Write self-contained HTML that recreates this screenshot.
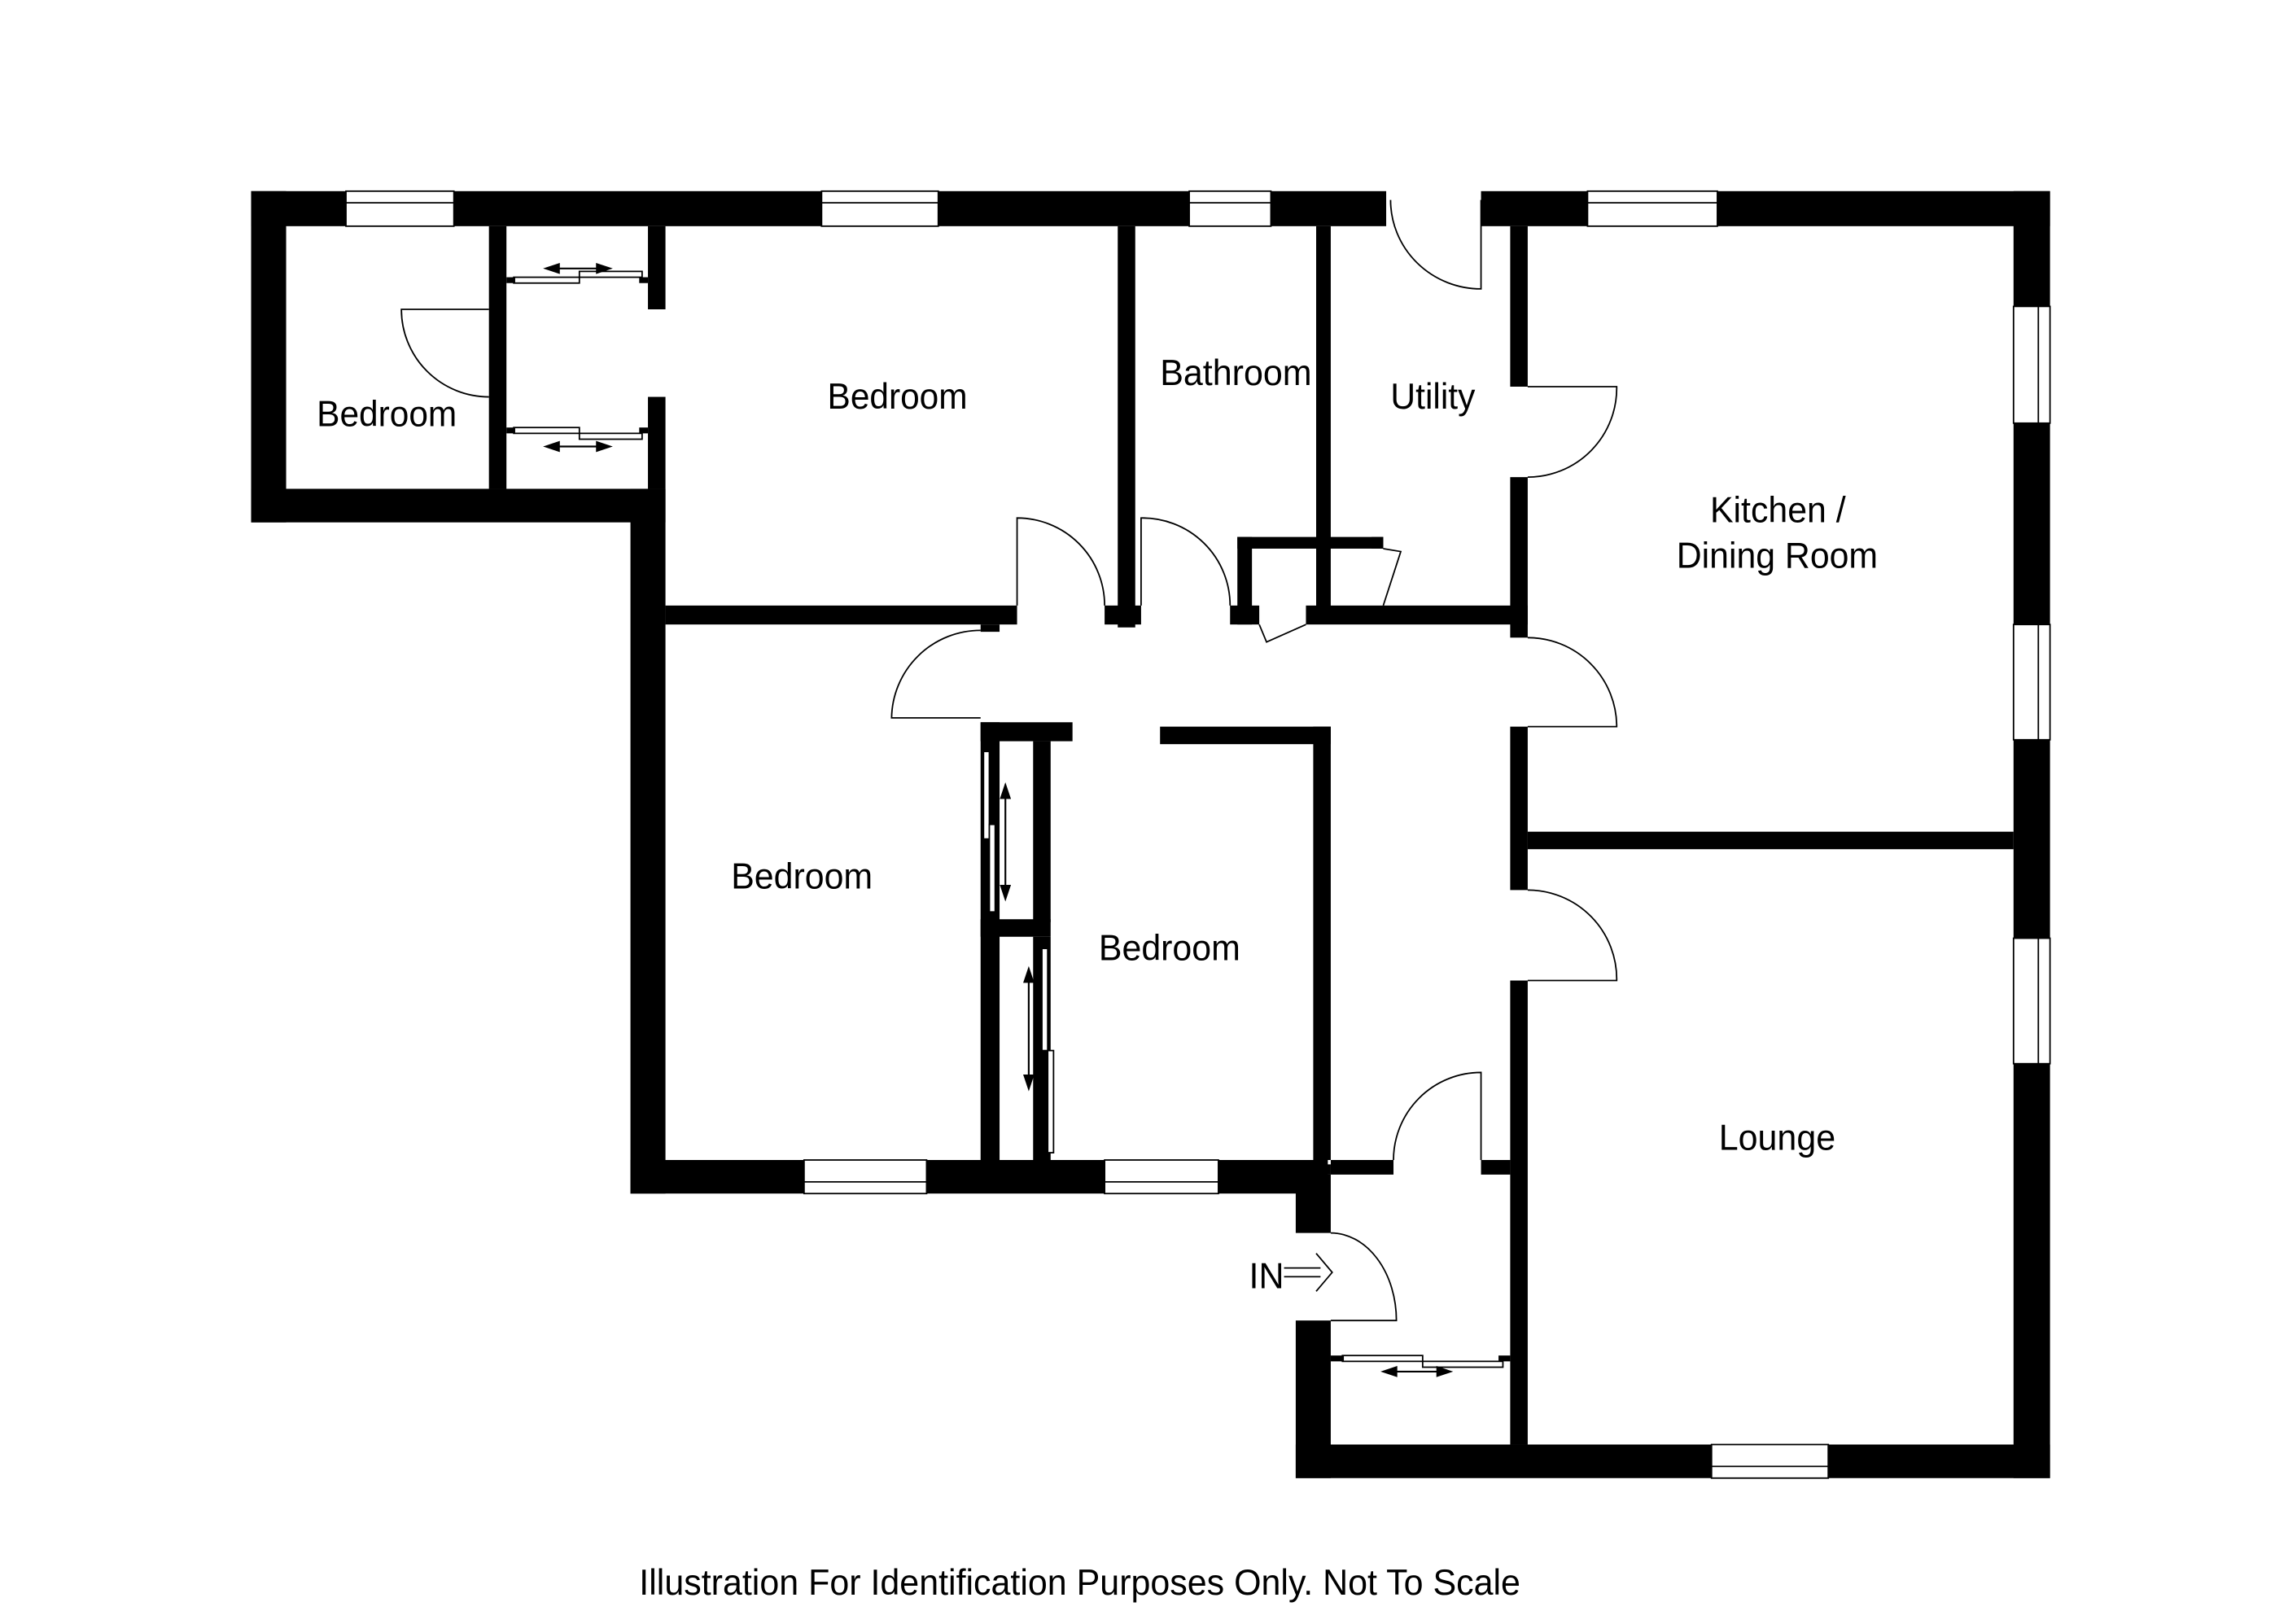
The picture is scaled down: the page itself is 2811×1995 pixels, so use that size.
<!DOCTYPE html>
<html><head><style>
html,body{margin:0;padding:0;background:#fff;}
svg{display:block;}
text{font-family:"Liberation Sans Narrow","Liberation Sans",sans-serif;fill:#000;}
</style></head><body>
<svg width="2811" height="1995" viewBox="0 0 1568 1113" xmlns="http://www.w3.org/2000/svg">
<rect width="1568" height="1113" fill="#fff"/>
<g fill="#000">
<rect x="172" y="131" width="778" height="24"/>
<rect x="1015" y="131" width="390" height="24"/>
<rect x="172" y="131" width="24" height="227"/>
<rect x="172" y="335" width="284" height="23"/>
<rect x="432" y="335" width="24" height="483"/>
<rect x="432" y="795" width="478" height="23"/>
<rect x="1380" y="131" width="25" height="882"/>
<rect x="888" y="990" width="517" height="23"/>
<rect x="888" y="805" width="24" height="40"/>
<rect x="888" y="905" width="24" height="108"/>
<rect x="335" y="155" width="12" height="180"/>
<rect x="444" y="155" width="12" height="57"/>
<rect x="444" y="272" width="12" height="63"/>
<rect x="766" y="155" width="12" height="275"/>
<rect x="902" y="155" width="10" height="270"/>
<rect x="1035" y="155" width="12" height="110"/>
<rect x="1035" y="327" width="12" height="110"/>
<rect x="456" y="415" width="241" height="13"/>
<rect x="672" y="428" width="13" height="5"/>
<rect x="757" y="415" width="25" height="13"/>
<rect x="843" y="415" width="20" height="13"/>
<rect x="895" y="415" width="152" height="13"/>
<rect x="848" y="368" width="100" height="8"/>
<rect x="848" y="368" width="10" height="60"/>
<rect x="940" y="368" width="8" height="8"/>
<rect x="1035" y="498" width="12" height="112"/>
<rect x="1047" y="570" width="333" height="12"/>
<rect x="1035" y="672" width="12" height="318"/>
<rect x="1015" y="795" width="20" height="10"/>
<rect x="912" y="795" width="43" height="10"/>
<rect x="672" y="495" width="63" height="13"/>
<rect x="795" y="498" width="117" height="12"/>
<rect x="900" y="498" width="12" height="297"/>
<rect x="672" y="495" width="13" height="300"/>
<rect x="708" y="508" width="12" height="124"/>
<rect x="672" y="630" width="48" height="12"/>
<rect x="708" y="642" width="12" height="153"/>
<rect x="896" y="798" width="16" height="7"/>
</g>
<g fill="#fff" stroke="#000" stroke-width="1">
<rect x="237" y="131" width="74" height="24"/>
<rect x="563" y="131" width="80" height="24"/>
<rect x="815" y="131" width="56" height="24"/>
<rect x="1088" y="131" width="89" height="24"/>
<rect x="551" y="795" width="84" height="23"/>
<rect x="757" y="795" width="78" height="23"/>
<rect x="1173" y="990" width="80" height="23"/>
<rect x="1380" y="210" width="25" height="80"/>
<rect x="1380" y="428" width="25" height="79"/>
<rect x="1380" y="643" width="25" height="86"/>
<line x1="237" y1="139" x2="311" y2="139"/><line x1="563" y1="139" x2="643" y2="139"/>
<line x1="815" y1="139" x2="871" y2="139"/><line x1="1088" y1="139" x2="1177" y2="139"/>
<line x1="551" y1="810" x2="635" y2="810"/><line x1="757" y1="810" x2="835" y2="810"/>
<line x1="1173" y1="1005" x2="1253" y2="1005"/>
<line x1="1397" y1="210" x2="1397" y2="290"/><line x1="1397" y1="428" x2="1397" y2="507"/>
<line x1="1397" y1="643" x2="1397" y2="729"/>
</g>
<g fill="none" stroke="#000" stroke-width="1">
<path d="M335 212 L275 212 A60 60 0 0 0 335 272"/>
<path d="M1015 137 L1015 198 A62 61 0 0 1 953 137"/>
<path d="M1047 265 L1108 265 A61 61 0 0 1 1047 327"/>
<path d="M697 415 L697 355 A60 60 0 0 1 757 415"/>
<path d="M782 415 L782 355 A60 60 0 0 1 843 415"/>
<path d="M672 432 A61 61 0 0 0 611 492 L672 492"/>
<path d="M1047 437 A61 61 0 0 1 1108 498 L1047 498"/>
<path d="M1047 610 A61 61 0 0 1 1108 672 L1047 672"/>
<path d="M1015 795 L1015 735 A60 60 0 0 0 955 795"/>
<path d="M912 905 L957 905 A45 60 0 0 0 912 845"/>
<path d="M863 428 L868 440 L895 428"/>
<path d="M948 376 L960 378 L948 415"/>
<rect x="352" y="190" width="45" height="4" fill="#fff"/><rect x="397" y="186" width="43" height="4" fill="#fff"/>
<rect x="352" y="293" width="45" height="4" fill="#fff"/><rect x="397" y="297" width="43" height="4" fill="#fff"/>
<rect x="674" y="515" width="4" height="60" fill="#fff"/><rect x="678" y="565" width="4" height="60" fill="#fff"/>
<rect x="714" y="650" width="4" height="70" fill="#fff"/><rect x="718" y="720" width="4" height="70" fill="#fff"/>
<rect x="920" y="929" width="55" height="4" fill="#fff"/><rect x="975" y="933" width="55" height="4" fill="#fff"/>
</g>
<g fill="#000">
<rect x="347" y="190" width="6" height="4"/><rect x="438" y="190" width="6" height="4"/>
<rect x="347" y="293" width="6" height="4"/><rect x="438" y="293" width="6" height="4"/>
<rect x="912" y="929" width="9" height="4"/><rect x="1027" y="929" width="8" height="4"/>
</g>
<g stroke="#000" stroke-width="1.2" fill="#000">
<line x1="378" y1="184" x2="414" y2="184"/><path d="M374 184 l9 -3 v6z M418 184 l-9 -3 v6z"/>
<line x1="378" y1="306" x2="414" y2="306"/><path d="M374 306 l9 -3 v6z M418 306 l-9 -3 v6z"/>
<line x1="689" y1="542" x2="689" y2="612"/><path d="M689 538 l-3 9 h6z M689 616 l-3 -9 h6z"/>
<line x1="705" y1="668" x2="705" y2="742"/><path d="M705 664 l-3 9 h6z M705 746 l-3 -9 h6z"/>
<line x1="952" y1="940" x2="990" y2="940"/><path d="M948 940 l9 -3 v6z M994 940 l-9 -3 v6z"/>
</g>
<g fill="none" stroke="#000" stroke-width="1">
<path d="M880 869 H905 M880 875 H905 M902 859 L913 872 L902 885"/>
</g>
<g font-size="25">
<text x="217" y="292" textLength="96" lengthAdjust="spacingAndGlyphs">Bedroom</text>
<text x="567" y="280" textLength="96" lengthAdjust="spacingAndGlyphs">Bedroom</text>
<text x="795" y="264" textLength="104" lengthAdjust="spacingAndGlyphs">Bathroom</text>
<text x="953" y="280" textLength="58" lengthAdjust="spacingAndGlyphs">Utility</text>
<text x="1172" y="358" textLength="93" lengthAdjust="spacingAndGlyphs">Kitchen /</text>
<text x="1149" y="389" textLength="138" lengthAdjust="spacingAndGlyphs">Dining Room</text>
<text x="501" y="609" textLength="97" lengthAdjust="spacingAndGlyphs">Bedroom</text>
<text x="753" y="658" textLength="97" lengthAdjust="spacingAndGlyphs">Bedroom</text>
<text x="1178" y="788" textLength="80" lengthAdjust="spacingAndGlyphs">Lounge</text>
<text x="856" y="883" textLength="24" lengthAdjust="spacingAndGlyphs">IN</text>
<text x="438" y="1093" textLength="604" lengthAdjust="spacingAndGlyphs">Illustration For Identification Purposes Only. Not To Scale</text>
</g>
</svg>
</body></html>
